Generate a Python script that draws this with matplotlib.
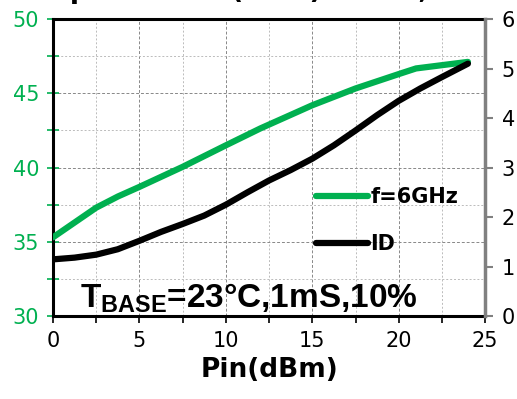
import matplotlib.pyplot as plt
from matplotlib.ticker import MultipleLocator

# Pin sweep (dBm) and output power at f=6GHz (dBm), left axis
pin_p = [0, 1.25, 2.5, 3.75, 5, 7.5, 10, 12, 15, 17.5, 20, 21, 22.5, 24]
pout = [35.3, 36.3, 37.3, 38.05, 38.7, 40.05, 41.5, 42.64, 44.2, 45.33, 46.3, 46.68, 46.9, 47.12]
# drain current ID (A), right axis
pin_i = [0, 1.25, 2.5, 3.75, 5, 6.25, 7.5, 8.75, 10, 11.25, 12.5, 13.75, 15,
         16.25, 17.5, 18.75, 20, 21.25, 22.5, 24]
idr = [1.145, 1.18, 1.24, 1.35, 1.52, 1.70, 1.86, 2.03, 2.25, 2.50, 2.74, 2.95, 3.18,
       3.45, 3.75, 4.06, 4.35, 4.60, 4.83, 5.10]

green = '#00B050'
plt.rcParams['font.family'] = 'DejaVu Sans'
plt.rcParams['mathtext.fontset'] = 'custom'
plt.rcParams['mathtext.bf'] = 'Liberation Sans:bold'
plt.rcParams['mathtext.rm'] = 'Liberation Sans:bold'

fig = plt.figure(figsize=(5.17, 3.99), dpi=100)
ax = fig.add_axes([0.1025, 0.208, 0.836, 0.744])
ax2 = ax.twinx()

ax.set_xlim(0, 25); ax.set_ylim(30, 50)
ax2.set_ylim(0, 6)

ax.xaxis.set_major_locator(MultipleLocator(5))
ax.xaxis.set_minor_locator(MultipleLocator(2.5))
ax.yaxis.set_major_locator(MultipleLocator(5))
ax.yaxis.set_minor_locator(MultipleLocator(2.5))
ax2.yaxis.set_major_locator(MultipleLocator(1))

ax.grid(True, which='major', color='#888888', linestyle=(0, (3, 2)), linewidth=0.7)
ax.grid(True, which='minor', color='#bbbbbb', linestyle=(0, (2, 2)), linewidth=0.7)
ax.set_axisbelow(True)

l1, = ax2.plot(pin_p, pout, color=green, lw=4.5, solid_capstyle='round',
               solid_joinstyle='round', transform=ax.transData, label='f=6GHz')
l2, = ax2.plot(pin_i, idr, color='black', lw=4.5, solid_capstyle='round',
               solid_joinstyle='round', label='ID')

for s in ['top', 'bottom', 'left']:
    ax.spines[s].set_linewidth(2.2)
    ax.spines[s].set_color('black')
ax2.spines['right'].set_color('#808080')
ax2.spines['right'].set_linewidth(2.5)
for s in ['top', 'bottom', 'left']:
    ax2.spines[s].set_visible(False)

ax.tick_params(axis='y', which='both', direction='inout', length=8, width=1.2,
               colors=green, labelsize=15, pad=6)
ax.tick_params(axis='x', which='both', direction='out', length=5, width=1.2,
               colors='black', labelsize=15, pad=6)
ax2.tick_params(axis='y', direction='out', length=6, width=1.5, color='#808080',
                labelcolor='black', labelsize=15, pad=6)

ax.set_xlabel('Pin(dBm)', fontsize=19, fontweight='bold', labelpad=4)

ax2.legend(handles=[l1, l2], loc='upper left', bbox_to_anchor=(0.585, 0.47),
           frameon=False, prop={'size': 15, 'weight': 'bold'},
           handlelength=2.5, handletextpad=0.1, labelspacing=1.3, borderpad=0)

ax2.text(0.062, 0.03, r'T$_{\mathbf{BASE}}$=23°C,1mS,10%', transform=ax.transAxes,
         fontsize=24, fontweight='bold', family='Liberation Sans',
         va='baseline', ha='left')

# title of the source figure, clipped by the top edge
fig.text(0.031, 1.005, 'Output Power (dBm) & PAE, ID', ha='left', va='baseline',
         fontsize=19, fontweight='bold')

fig.savefig('out.png', dpi=100)
